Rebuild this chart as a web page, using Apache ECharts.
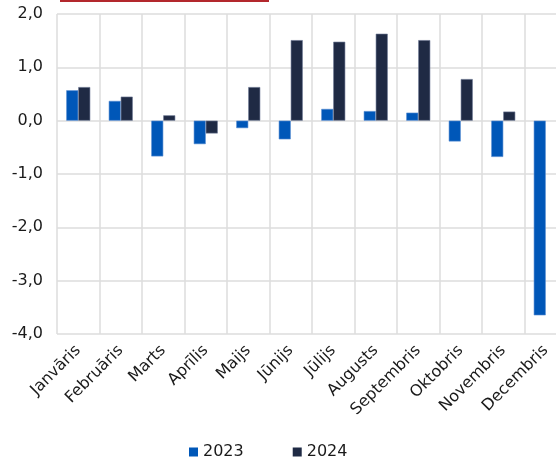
<!DOCTYPE html>
<html lang="lv">
<head>
<meta charset="utf-8">
<title>2023 / 2024</title>
<style>
  html, body { margin: 0; padding: 0; background: #fff; overflow: hidden; }
  #main { width: 580px; height: 461px; }
</style>
</head>
<body>
<div id="main"></div>
<script src="https://cdn.jsdelivr.net/npm/echarts@6/dist/echarts.min.js"></script>
<script>
  // mēneši
  var months = ['Janvāris', 'Februāris', 'Marts', 'Aprīlis', 'Maijs', 'Jūnijs',
    'Jūlijs', 'Augusts', 'Septembris', 'Oktobris', 'Novembris', 'Decembris'];
  var years = ['2023', '2024'];
  var values2023 = [0.57, 0.37, -0.67, -0.44, -0.14, -0.35, 0.22, 0.18, 0.15, -0.39, -0.68, -3.65];
  var values2024 = [0.63, 0.45, 0.10, -0.24, 0.63, 1.51, 1.48, 1.63, 1.51, 0.78, 0.17, null];
  var yTicks = [-4, -3, -2, -1, 0, 1, 2];

  var font = 'DejaVu Sans, Verdana, sans-serif';
  var myChart = echarts.init(document.getElementById('main'));

  var option = {
    animation: false,
    backgroundColor: '#fff',
    textStyle: { fontFamily: font },
    graphic: [
      // apgriezta virsraksta pasvītrojums
      { type: 'rect', left: 60, top: 0, shape: { width: 209, height: 2 }, style: { fill: '#b3282d' } }
    ],
    grid: { left: 57, top: 14, width: 510, height: 320 },
    legend: {
      data: years,
      left: 189,
      top: 444,
      padding: 0,
      itemWidth: 9,
      itemHeight: 9,
      itemGap: 49,
      icon: 'rect',
      itemStyle: { borderWidth: 0 },
      textStyle: { fontSize: 16, color: '#1a1a1a', fontFamily: font }
    },
    xAxis: {
      type: 'category',
      data: months,
      axisLine: { show: false },
      axisTick: { show: false },
      splitLine: { show: true, interval: 0, lineStyle: { color: '#dcdcdc', width: 1.5 } },
      axisLabel: {
        interval: 0,
        rotate: 45,
        margin: 14,
        fontSize: 16,
        color: '#1a1a1a',
        fontFamily: font
      }
    },
    yAxis: {
      type: 'value',
      min: yTicks[0],
      max: yTicks[yTicks.length - 1],
      interval: 1,
      axisLine: { show: false },
      axisTick: { show: false },
      splitLine: { lineStyle: { color: '#dcdcdc', width: 1.5 } },
      axisLabel: {
        margin: 14,
        fontSize: 16,
        color: '#1a1a1a',
        fontFamily: font,
        formatter: function (v) { return v.toFixed(1).replace('.', ','); }
      }
    },
    series: [
      {
        name: years[0],
        type: 'bar',
        data: values2023,
        barWidth: 12,
        barGap: '0%',
        itemStyle: { color: '#0057b8', borderColor: '#5b8fd4', borderWidth: 0.6 }
      },
      {
        name: years[1],
        type: 'bar',
        data: values2024,
        barWidth: 12,
        itemStyle: { color: '#1f2a44', borderColor: '#6d7896', borderWidth: 0.6 }
      }
    ]
  };
  myChart.setOption(option);
</script>
</body>
</html>
